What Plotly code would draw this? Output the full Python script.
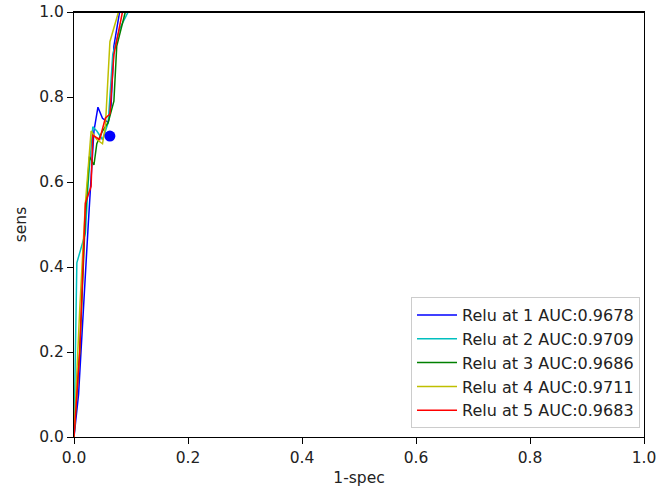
import plotly.graph_objects as go

labels = ["Relu at 1 AUC:0.9678", "Relu at 2 AUC:0.9709", "Relu at 3 AUC:0.9686",
          "Relu at 4 AUC:0.9711", "Relu at 5 AUC:0.9683"]
colors = ["#0000ff", "#00bfbf", "#008000", "#bfbf00", "#ff0000"]

fpr1 = [0, 0.008, 0.025, 0.03, 0.035, 0.042, 0.05, 0.06, 0.065, 0.07, 0.08, 1.0]
tpr1 = [0, 0.10, 0.50, 0.62, 0.72, 0.776, 0.75, 0.74, 0.78, 0.92, 1.0, 1.0]
fpr2 = [0, 0.005, 0.02, 0.025, 0.033, 0.04, 0.05, 0.06, 0.068, 0.08, 0.095, 1.0]
tpr2 = [0, 0.41, 0.48, 0.60, 0.73, 0.72, 0.70, 0.74, 0.90, 0.96, 1.0, 1.0]
fpr3 = [0, 0.01, 0.02, 0.027, 0.035, 0.04, 0.05, 0.06, 0.07, 0.075, 0.09, 1.0]
tpr3 = [0, 0.20, 0.52, 0.66, 0.64, 0.69, 0.72, 0.74, 0.79, 0.92, 1.0, 1.0]
fpr4 = [0, 0.01, 0.02, 0.03, 0.04, 0.05, 0.055, 0.063, 0.078, 1.0]
tpr4 = [0, 0.30, 0.55, 0.72, 0.70, 0.69, 0.73, 0.93, 1.0, 1.0]
fpr5 = [0, 0.01, 0.02, 0.03, 0.033, 0.045, 0.055, 0.063, 0.07, 0.085, 1.0]
tpr5 = [0, 0.20, 0.55, 0.59, 0.71, 0.70, 0.75, 0.76, 0.90, 1.0, 1.0]

point_x = [0.063]
point_y = [0.708]

fprs = [fpr1, fpr2, fpr3, fpr4, fpr5]
tprs = [tpr1, tpr2, tpr3, tpr4, tpr5]

fig = go.Figure()
for f, t, lab, c in zip(fprs, tprs, labels, colors):
    fig.add_trace(go.Scatter(x=f, y=t, mode="lines", name=lab,
                             line=dict(color=c, width=1.5)))
fig.add_trace(go.Scatter(x=point_x, y=point_y, mode="markers", showlegend=False,
                         marker=dict(color="#0000ff", size=11)))

axis_common = dict(range=[0, 1], showline=True, linecolor="black", linewidth=1.2,
                   mirror=True, ticks="outside", ticklen=6, tickcolor="black",
                   showgrid=False, zeroline=False, tickformat=".1f", dtick=0.2,
                   automargin=False, layer="above traces",
                   tickfont=dict(size=15.5, color="#222"))

fig.update_layout(
    width=669, height=490,
    margin=dict(l=74, r=25, t=12, b=53),
    paper_bgcolor="white", plot_bgcolor="white",
    font=dict(family="DejaVu Sans", size=15.5, color="#222"),
    xaxis=dict(title=dict(text="1-spec", font=dict(size=15.5), standoff=6), **axis_common),
    yaxis=dict(title=dict(text="sens", font=dict(size=15.5), standoff=8), **axis_common),
    legend=dict(x=0.993, y=0.021, xanchor="right", yanchor="bottom",
                bgcolor="rgba(255,255,255,0.8)", bordercolor="#cccccc", borderwidth=1,
                itemwidth=40, font=dict(size=16)),
)
# top spine drawn over the curves, as in the reference
fig.add_shape(type="line", xref="paper", yref="paper", x0=0, x1=1, y0=1, y1=1,
              line=dict(color="black", width=2), layer="above")
fig.write_html("out.html")
